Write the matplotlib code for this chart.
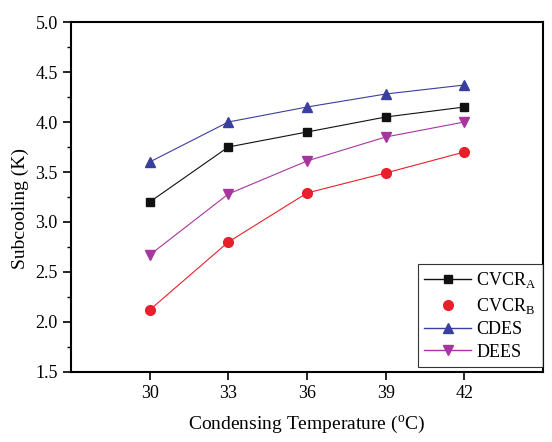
import matplotlib
matplotlib.use("Agg")
import matplotlib.pyplot as plt
from matplotlib.lines import Line2D
from matplotlib.ticker import MultipleLocator

plt.rcParams['font.family'] = ['Liberation Serif', 'DejaVu Serif']
plt.rcParams['mathtext.fontset'] = 'custom'
plt.rcParams['mathtext.rm'] = 'Liberation Serif'

temps = [30, 33, 36, 39, 42]
cvcr_a = [3.20, 3.75, 3.90, 4.05, 4.15]
cvcr_b = [2.12, 2.80, 3.29, 3.49, 3.70]
cdes = [3.60, 4.00, 4.15, 4.28, 4.37]
dees = [2.67, 3.28, 3.61, 3.85, 4.00]

c_black = "#111111"
c_red = "#e8202a"
c_blue = "#3a3f9e"
c_mag = "#a8359e"

fig = plt.figure(figsize=(5.52, 4.42), dpi=100)
ax = fig.add_axes([0.1286, 0.1584, 0.8551, 0.7918])

ax.plot(temps, cvcr_a, "-s", color=c_black, lw=0.8, ms=6)
ax.plot(temps, cvcr_b, "-o", color=c_red, lw=0.8, ms=7)
ax.plot(temps, cdes, "-^", color=c_blue, lw=0.8, ms=7)
ax.plot(temps, dees, "-v", color=c_mag, lw=0.8, ms=7)

ax.set_xlim(27, 45)
ax.set_ylim(1.5, 5.0)
ax.set_xticks(temps)
ax.yaxis.set_major_locator(MultipleLocator(0.5))
ax.yaxis.set_minor_locator(MultipleLocator(0.25))
ax.tick_params(axis="both", which="major", direction="out", length=6, width=1.2,
               labelsize=13, top=False, right=False)
ax.tick_params(axis="y", which="minor", direction="out", length=3, width=1.0)
for s in ax.spines.values():
    s.set_linewidth(1.5)

ax.set_xlabel(r"Condensing Temperature ($^\mathrm{o}$C)", fontsize=14, labelpad=8)
ax.set_ylabel("Subcooling (K)", fontsize=14)
ax.yaxis.set_label_coords(-0.09, 0.466)

handles = [
    Line2D([], [], color=c_black, marker="s", lw=1.0, ms=6),
    Line2D([], [], color=c_red, marker="o", lw=0, ms=7),
    Line2D([], [], color=c_blue, marker="^", lw=1.0, ms=7),
    Line2D([], [], color=c_mag, marker="v", lw=1.0, ms=7),
]
labels = [r"CVCR$_\mathrm{A}$", r"CVCR$_\mathrm{B}$", "CDES", "DEES"]
leg = ax.legend(handles, labels, loc="lower right", bbox_to_anchor=(1.0, 5 / 350),
                borderaxespad=0, fancybox=False, edgecolor="black", fontsize=13,
                handlelength=2.6, labelspacing=0.3, handletextpad=0.3,
                borderpad=0.35)
leg.get_frame().set_linewidth(0.8)

fig.savefig("out.png", dpi=100)
